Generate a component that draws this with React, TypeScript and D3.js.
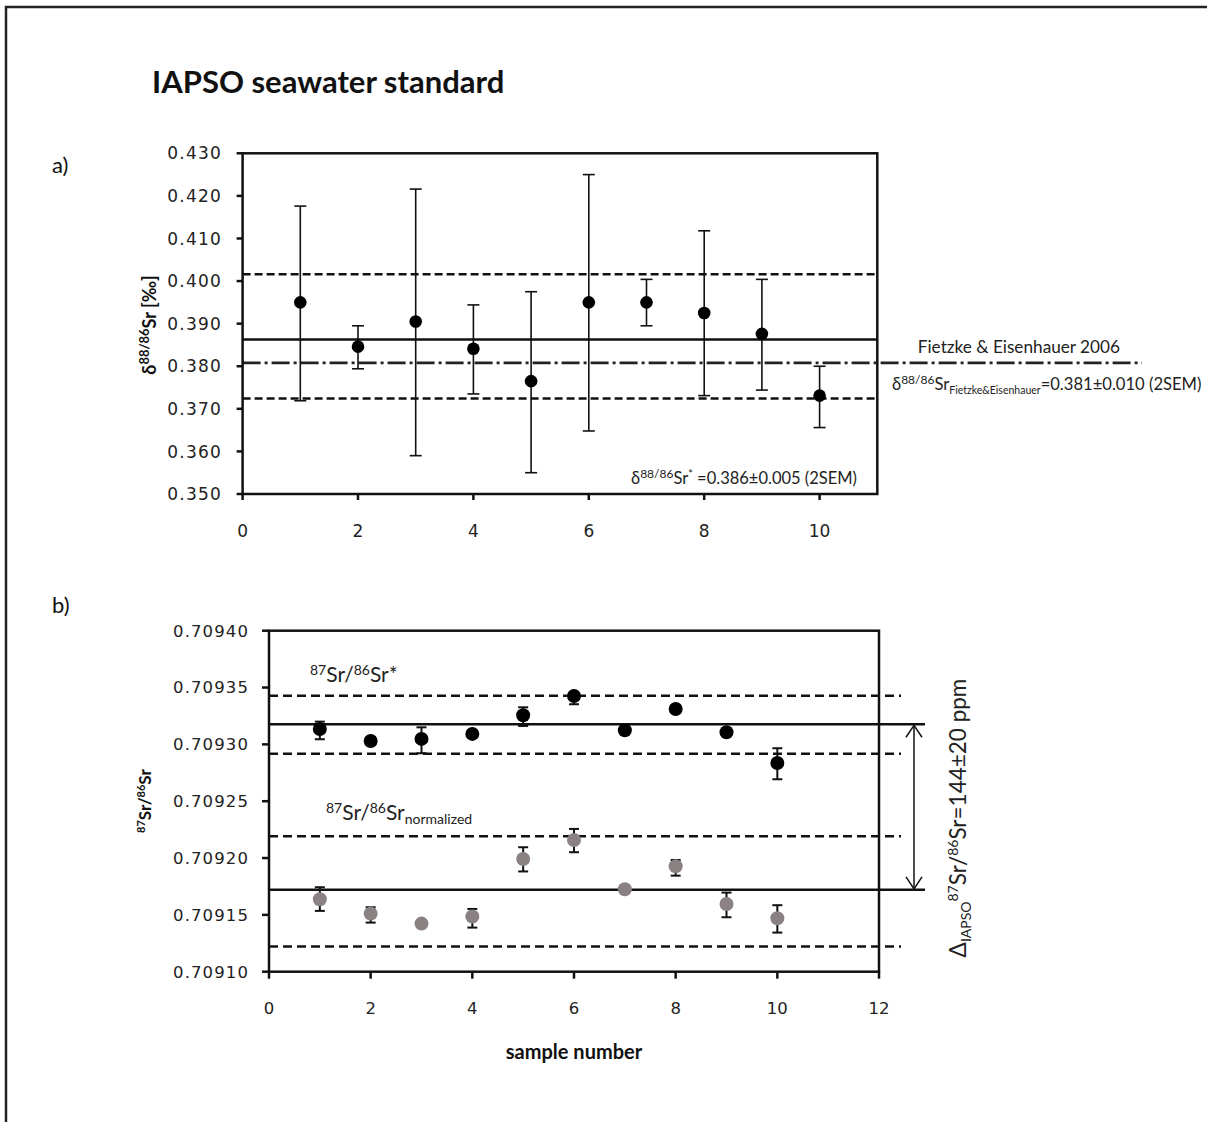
import React from "react";
import * as d3 from "d3";

const samples = [1, 2, 3, 4, 5, 6, 7, 8, 9, 10];
// Panel a: d88/86Sr
const aMean = [0.395, 0.3846, 0.3905, 0.3841, 0.3765, 0.395, 0.395, 0.3925, 0.3876, 0.3731];
const aHi = [0.4176, 0.3895, 0.4216, 0.3944, 0.3975, 0.425, 0.4004, 0.4118, 0.4004, 0.38];
const aLo = [0.3719, 0.3794, 0.359, 0.3735, 0.355, 0.3648, 0.3895, 0.3731, 0.3744, 0.3656];
const aMeanLine = 0.3863;
const aBand = [0.3724, 0.4016];
const aFE = 0.3808;
const aYTicks = [0.35, 0.36, 0.37, 0.38, 0.39, 0.4, 0.41, 0.42, 0.43];
const aXTicks = [0, 2, 4, 6, 8, 10];

// Panel b: 87Sr/86Sr
const bMean = [0.7093135, 0.709303, 0.7093048, 0.7093092, 0.7093256, 0.7093426, 0.7093124, 0.7093311, 0.7093106, 0.7092836];
const bHi = [0.70932, 0.7093036, 0.709315, 0.7093098, 0.7093326, 0.7093433, 0.709313, 0.7093317, 0.7093116, 0.7092966];
const bLo = [0.7093045, 0.7093024, 0.7092922, 0.7093086, 0.7093162, 0.7093353, 0.7093118, 0.7093305, 0.7093096, 0.7092693];
const nMean = [0.7091638, 0.7091511, 0.7091423, 0.7091485, 0.7091992, 0.7092159, 0.7091726, 0.7091928, 0.7091596, 0.709147];
const nHi = [0.7091743, 0.7091567, 0.7091429, 0.7091552, 0.7092095, 0.7092256, 0.7091732, 0.7091983, 0.7091696, 0.7091585];
const nLo = [0.7091535, 0.7091432, 0.7091417, 0.7091388, 0.7091882, 0.7092051, 0.709172, 0.7091845, 0.7091479, 0.7091344];
const bMeanLine = 0.7093177;
const bBand = [0.7092918, 0.7093428];
const nMeanLine = 0.709172;
const nBand = [0.7091221, 0.7092192];
const bYTicks = [0.7091, 0.70915, 0.7092, 0.70925, 0.7093, 0.70935, 0.7094];
const bXTicks = [0, 2, 4, 6, 8, 10, 12];

const TICKFONT = "DejaVu Sans, Verdana, sans-serif";
const TEXTFONT = "Lato, 'Open Sans', sans-serif";

export default function App() {
  const ax = d3.scaleLinear().domain([0, 11]).range([242.6, 877.3]);
  const ay = d3.scaleLinear().domain([0.35, 0.43]).range([494, 153.3]);
  const bx = d3.scaleLinear().domain([0, 12]).range([269, 879]);
  const by = d3.scaleLinear().domain([0.7091, 0.7094]).range([971.7, 630.7]);

  const axisW = 2.5;
  const sup = (t: string, size = 11, up = 6) => (
    <tspan fontSize={size} dy={-up}>{t}</tspan>
  );

  return (
    <div style={{ position: "absolute", left: 0, top: 0 }}>
      <svg width={1207} height={1122} style={{ display: "block", background: "#fff" }}>
        {/* outer frame */}
        <path d="M6,1122 V7 H1207" fill="none" stroke="#222" strokeWidth={2.5} />
        <text x={152} y={93} fontFamily={TEXTFONT} fontWeight={700} fontSize={31} fill="#111">
          IAPSO seawater standard
        </text>
        <text x={52} y={173} fontFamily={TEXTFONT} fontSize={22} fill="#111">a)</text>
        <text x={52} y={613} fontFamily={TEXTFONT} fontSize={22} fill="#111">b)</text>

        {/* ===== Panel a ===== */}
        <g>
          {aBand.map((v, i) => (
            <line key={"ab" + i} x1={ax(0)} x2={ax(11)} y1={ay(v)} y2={ay(v)} stroke="#111" strokeWidth={2.5} strokeDasharray="8 4" />
          ))}
          <line x1={ax(0)} x2={ax(11)} y1={ay(aMeanLine)} y2={ay(aMeanLine)} stroke="#111" strokeWidth={2.5} />
          <line x1={ax(0)} x2={1142} y1={ay(aFE)} y2={ay(aFE)} stroke="#222" strokeWidth={2.8} strokeDasharray="18 4 3 4" />
          {samples.map((s, i) => (
            <g key={"ae" + i} stroke="#111" strokeWidth={1.6}>
              <line x1={ax(s)} x2={ax(s)} y1={ay(aLo[i])} y2={ay(aHi[i])} />
              <line x1={ax(s) - 6} x2={ax(s) + 6} y1={ay(aLo[i])} y2={ay(aLo[i])} />
              <line x1={ax(s) - 6} x2={ax(s) + 6} y1={ay(aHi[i])} y2={ay(aHi[i])} />
            </g>
          ))}
          {samples.map((s, i) => (
            <circle key={"ap" + i} cx={ax(s)} cy={ay(aMean[i])} r={6.3} fill="#000" />
          ))}
          <rect x={ax(0)} y={ay(0.43)} width={ax(11) - ax(0)} height={ay(0.35) - ay(0.43)} fill="none" stroke="#111" strokeWidth={axisW} />
          {aYTicks.map((t) => (
            <g key={"ayt" + t}>
              <line x1={ax(0) - 6} x2={ax(0)} y1={ay(t)} y2={ay(t)} stroke="#111" strokeWidth={axisW} />
              <text x={222} y={ay(t)} dy="0.36em" textAnchor="end" fontFamily={TICKFONT} fontSize={17} letterSpacing={1.2} fill="#222">
                {d3.format(".3f")(t)}
              </text>
            </g>
          ))}
          {aXTicks.map((t) => (
            <g key={"axt" + t}>
              <line x1={ax(t)} x2={ax(t)} y1={ay(0.35)} y2={ay(0.35) + 6} stroke="#111" strokeWidth={axisW} />
              <text x={ax(t)} y={531} dy="0.36em" textAnchor="middle" fontFamily={TICKFONT} fontSize={17} fill="#222">
                {t}
              </text>
            </g>
          ))}
          <text transform="translate(156,325) rotate(-90)" textAnchor="middle" fontFamily={TEXTFONT} fontWeight={700} fontSize={18} fill="#111">
            δ{sup("88/86", 13, 7)}<tspan dy={7}>Sr [‰]</tspan>
          </text>
          <text x={1120} y={353} textAnchor="end" fontFamily={TEXTFONT} fontSize={17.2} fill="#222">
            Fietzke &amp; Eisenhauer 2006
          </text>
          <text x={892} y={390} fontFamily={TEXTFONT} fontSize={16.6} fill="#222">
            δ{sup("88/86", 12)}<tspan dy={6}>Sr</tspan>
            <tspan fontSize={10.5} dy={4}>Fietzke&amp;Eisenhauer</tspan>
            <tspan dy={-4}>=0.381±0.010 (2SEM)</tspan>
          </text>
          <text x={857} y={484} textAnchor="end" fontFamily={TEXTFONT} fontSize={16.5} fill="#222">
            δ{sup("88/86", 12)}<tspan dy={6}>Sr</tspan>{sup("*", 11)}<tspan dy={6}> =0.386±0.005 (2SEM)</tspan>
          </text>
        </g>

        {/* ===== Panel b ===== */}
        <g>
          {[...bBand, ...nBand].map((v, i) => (
            <line key={"bb" + i} x1={bx(0)} x2={901} y1={by(v)} y2={by(v)} stroke="#111" strokeWidth={2.5} strokeDasharray="9 5" />
          ))}
          {[bMeanLine, nMeanLine].map((v, i) => (
            <line key={"bm" + i} x1={bx(0)} x2={925} y1={by(v)} y2={by(v)} stroke="#111" strokeWidth={2.5} />
          ))}
          {samples.map((s, i) => (
            <g key={"be" + i} stroke="#111" strokeWidth={2}>
              <line x1={bx(s)} x2={bx(s)} y1={by(bLo[i])} y2={by(bHi[i])} />
              <line x1={bx(s) - 5} x2={bx(s) + 5} y1={by(bLo[i])} y2={by(bLo[i])} />
              <line x1={bx(s) - 5} x2={bx(s) + 5} y1={by(bHi[i])} y2={by(bHi[i])} />
              <line x1={bx(s)} x2={bx(s)} y1={by(nLo[i])} y2={by(nHi[i])} />
              <line x1={bx(s) - 5} x2={bx(s) + 5} y1={by(nLo[i])} y2={by(nLo[i])} />
              <line x1={bx(s) - 5} x2={bx(s) + 5} y1={by(nHi[i])} y2={by(nHi[i])} />
            </g>
          ))}
          {samples.map((s, i) => (
            <circle key={"bp" + i} cx={bx(s)} cy={by(bMean[i])} r={7} fill="#000" />
          ))}
          {samples.map((s, i) => (
            <circle key={"np" + i} cx={bx(s)} cy={by(nMean[i])} r={7} fill="#8a8282" />
          ))}
          <rect x={bx(0)} y={by(0.7094)} width={bx(12) - bx(0)} height={by(0.7091) - by(0.7094)} fill="none" stroke="#111" strokeWidth={axisW} />
          {bYTicks.map((t) => (
            <g key={"byt" + t}>
              <line x1={bx(0) - 7} x2={bx(0)} y1={by(t)} y2={by(t)} stroke="#111" strokeWidth={axisW} />
              <text x={249} y={by(t)} dy="0.36em" textAnchor="end" fontFamily={TICKFONT} fontSize={16.5} letterSpacing={1.1} fill="#222">
                {d3.format(".5f")(t)}
              </text>
            </g>
          ))}
          {bXTicks.map((t) => (
            <g key={"bxt" + t}>
              <line x1={bx(t)} x2={bx(t)} y1={by(0.7091)} y2={by(0.7091) + 7} stroke="#111" strokeWidth={axisW} />
              <text x={bx(t)} y={1008} dy="0.36em" textAnchor="middle" fontFamily={TICKFONT} fontSize={16.5} fill="#222">
                {t}
              </text>
            </g>
          ))}
          <text transform="translate(151,801) rotate(-90)" textAnchor="middle" fontFamily={TEXTFONT} fontWeight={700} fontSize={17} fill="#111">
            {sup("87", 11)}<tspan dy={6}>Sr/</tspan>{sup("86", 11)}<tspan dy={6}>Sr</tspan>
          </text>
          <text x={574} y={1059} textAnchor="middle" fontFamily={TEXTFONT} fontWeight={700} fontSize={20} fill="#111">
            sample number
          </text>
          <text x={310} y={682} fontFamily={TEXTFONT} fontSize={21} fill="#222">
            {sup("87", 14, 7)}<tspan dy={7}>Sr/</tspan>{sup("86", 14, 7)}<tspan dy={7}>Sr*</tspan>
          </text>
          <text x={326} y={820} fontFamily={TEXTFONT} fontSize={21} fill="#222">
            {sup("87", 14, 7)}<tspan dy={7}>Sr/</tspan>{sup("86", 14, 7)}<tspan dy={7}>Sr</tspan>
            <tspan fontSize={14} dy={4}>normalized</tspan>
          </text>
          <g stroke="#111" strokeWidth={1.5} fill="none">
            <line x1={914} x2={914} y1={by(bMeanLine) + 1} y2={by(nMeanLine) - 1} />
            <path d={`M906,${by(bMeanLine) + 13} L914,${by(bMeanLine) + 1} L922,${by(bMeanLine) + 13}`} />
            <path d={`M906,${by(nMeanLine) - 13} L914,${by(nMeanLine) - 1} L922,${by(nMeanLine) - 13}`} />
          </g>
          <text transform="translate(966,818) rotate(-90)" textAnchor="middle" fontFamily={TEXTFONT} fontSize={22.5} fill="#222">
            Δ<tspan fontSize={14} dy={5}>IAPSO</tspan>
            <tspan fontSize={14} dy={-13}>87</tspan>
            <tspan dy={8}>Sr/</tspan>
            <tspan fontSize={14} dy={-8}>86</tspan>
            <tspan dy={8}>Sr=144±20 ppm</tspan>
          </text>
        </g>
      </svg>
    </div>
  );
}
